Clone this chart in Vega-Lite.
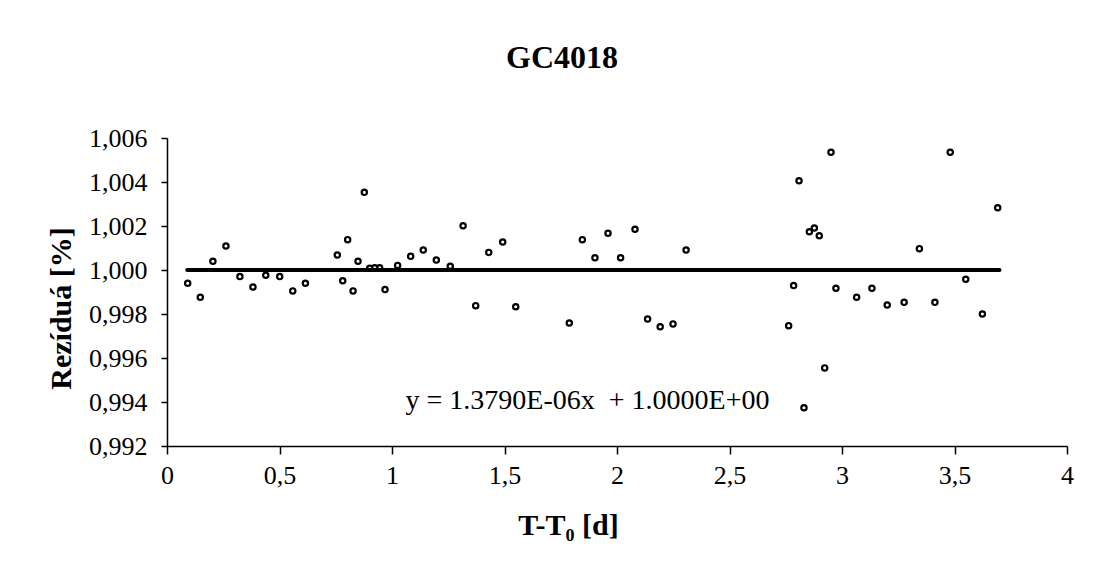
{
  "$schema": "https://vega.github.io/schema/vega-lite/v6.json",
  "width": 900,
  "height": 308,
  "autosize": {"type": "none"},
  "padding": {"left": 167, "top": 138, "right": 38, "bottom": 131},
  "background": "white",
  "config": {"view": {"stroke": null}, "font": "Liberation Serif"},
  "title": {"text": "GC4018", "font": "Liberation Serif", "fontSize": 32, "fontWeight": "bold", "color": "black", "anchor": "middle", "dx": -55, "offset": 25, "baseline": "alphabetic"},
  "datasets": {
    "points": [
      {"t": 0.092, "r": 0.99940}, {"t": 0.148, "r": 0.99876}, {"t": 0.204, "r": 1.00040}, {"t": 0.262, "r": 1.00109},
      {"t": 0.324, "r": 0.99970}, {"t": 0.382, "r": 0.99923}, {"t": 0.439, "r": 0.99976}, {"t": 0.501, "r": 0.99970},
      {"t": 0.559, "r": 0.99905}, {"t": 0.615, "r": 0.99940}, {"t": 0.757, "r": 1.00068}, {"t": 0.781, "r": 0.99951},
      {"t": 0.803, "r": 1.00138}, {"t": 0.827, "r": 0.99905}, {"t": 0.849, "r": 1.00040}, {"t": 0.877, "r": 1.00353},
      {"t": 0.901, "r": 1.00008}, {"t": 0.923, "r": 1.00010}, {"t": 0.945, "r": 1.00010}, {"t": 0.969, "r": 0.99911},
      {"t": 1.025, "r": 1.00021}, {"t": 1.083, "r": 1.00062}, {"t": 1.139, "r": 1.00091}, {"t": 1.197, "r": 1.00045},
      {"t": 1.259, "r": 1.00017}, {"t": 1.316, "r": 1.00201}, {"t": 1.372, "r": 0.99838}, {"t": 1.430, "r": 1.00080},
      {"t": 1.492, "r": 1.00127}, {"t": 1.550, "r": 0.99833}, {"t": 1.788, "r": 0.99759}, {"t": 1.846, "r": 1.00138},
      {"t": 1.902, "r": 1.00056}, {"t": 1.960, "r": 1.00167}, {"t": 2.016, "r": 1.00056}, {"t": 2.080, "r": 1.00185},
      {"t": 2.136, "r": 0.99777}, {"t": 2.192, "r": 0.99742}, {"t": 2.249, "r": 0.99755}, {"t": 2.307, "r": 1.00091},
      {"t": 2.763, "r": 0.99747}, {"t": 2.785, "r": 0.99929}, {"t": 2.809, "r": 1.00406}, {"t": 2.831, "r": 0.99374},
      {"t": 2.855, "r": 1.00174}, {"t": 2.877, "r": 1.00191}, {"t": 2.899, "r": 1.00156}, {"t": 2.923, "r": 0.99555},
      {"t": 2.951, "r": 1.00535}, {"t": 2.973, "r": 0.99917}, {"t": 3.065, "r": 0.99876}, {"t": 3.133, "r": 0.99917},
      {"t": 3.201, "r": 0.99841}, {"t": 3.276, "r": 0.99853}, {"t": 3.344, "r": 1.00097}, {"t": 3.413, "r": 0.99853},
      {"t": 3.481, "r": 1.00535}, {"t": 3.550, "r": 0.99958}, {"t": 3.624, "r": 0.99800}, {"t": 3.692, "r": 1.00283}
    ],
    "trend": [{"t": 0.09, "r": 1.000000124}, {"t": 3.70, "r": 1.0000051}],
    "eq": [{"t": 1.869, "r": 0.99405, "label": "y = 1.3790E-06x \u00a0+ 1.0000E+00"}]
  },
  "layer": [
    {
      "data": {"name": "trend"},
      "mark": {"type": "line", "color": "black", "strokeWidth": 4, "strokeCap": "round"},
      "encoding": {
        "x": {"field": "t", "type": "quantitative",
          "scale": {"domain": [0, 4], "nice": false, "zero": false},
          "axis": {"title": "T-T₀ [d]", "titleFont": "Liberation Serif", "titleFontSize": 30, "titleFontWeight": "bold", "titleColor": "black",
            "titleX": 401, "titlePadding": 22,
            "values": [0, 0.5, 1, 1.5, 2, 2.5, 3, 3.5, 4],
            "labelExpr": "replace(format(datum.value, '.1~f'), '.', ',')",
            "labelFont": "Liberation Serif", "labelFontSize": 26, "labelColor": "black", "labelPadding": 8,
            "domainColor": "black", "domainWidth": 1.5, "tickColor": "black", "tickWidth": 1.5, "tickSize": 8,
            "grid": false, "labelFlush": false, "labelOverlap": false}},
        "y": {"field": "r", "type": "quantitative",
          "scale": {"domain": [0.992, 1.006], "nice": false, "zero": false},
          "axis": {"title": "Rezíduá [%]", "titleFont": "Liberation Serif", "titleFontSize": 30, "titleFontWeight": "bold", "titleColor": "black",
            "titlePadding": 12, "titleY": 170,
            "values": [0.992, 0.994, 0.996, 0.998, 1.0, 1.002, 1.004, 1.006],
            "labelExpr": "replace(format(datum.value, '.3f'), '.', ',')",
            "labelFont": "Liberation Serif", "labelFontSize": 26, "labelColor": "black", "labelPadding": 14,
            "domainColor": "black", "domainWidth": 1.5, "tickColor": "black", "tickWidth": 1.5, "tickSize": 6,
            "grid": false, "labelFlush": false, "labelOverlap": false}}
      }
    },
    {
      "data": {"name": "points"},
      "mark": {"type": "point", "shape": "circle", "filled": false, "stroke": "black", "strokeWidth": 2.2, "size": 28, "opacity": 1},
      "encoding": {
        "x": {"field": "t", "type": "quantitative"},
        "y": {"field": "r", "type": "quantitative"}
      }
    },
    {
      "data": {"name": "eq"},
      "mark": {"type": "text", "font": "Liberation Serif", "fontSize": 28, "color": "black", "align": "center", "baseline": "middle"},
      "encoding": {
        "x": {"field": "t", "type": "quantitative"},
        "y": {"field": "r", "type": "quantitative"},
        "text": {"field": "label"}
      }
    }
  ]
}
